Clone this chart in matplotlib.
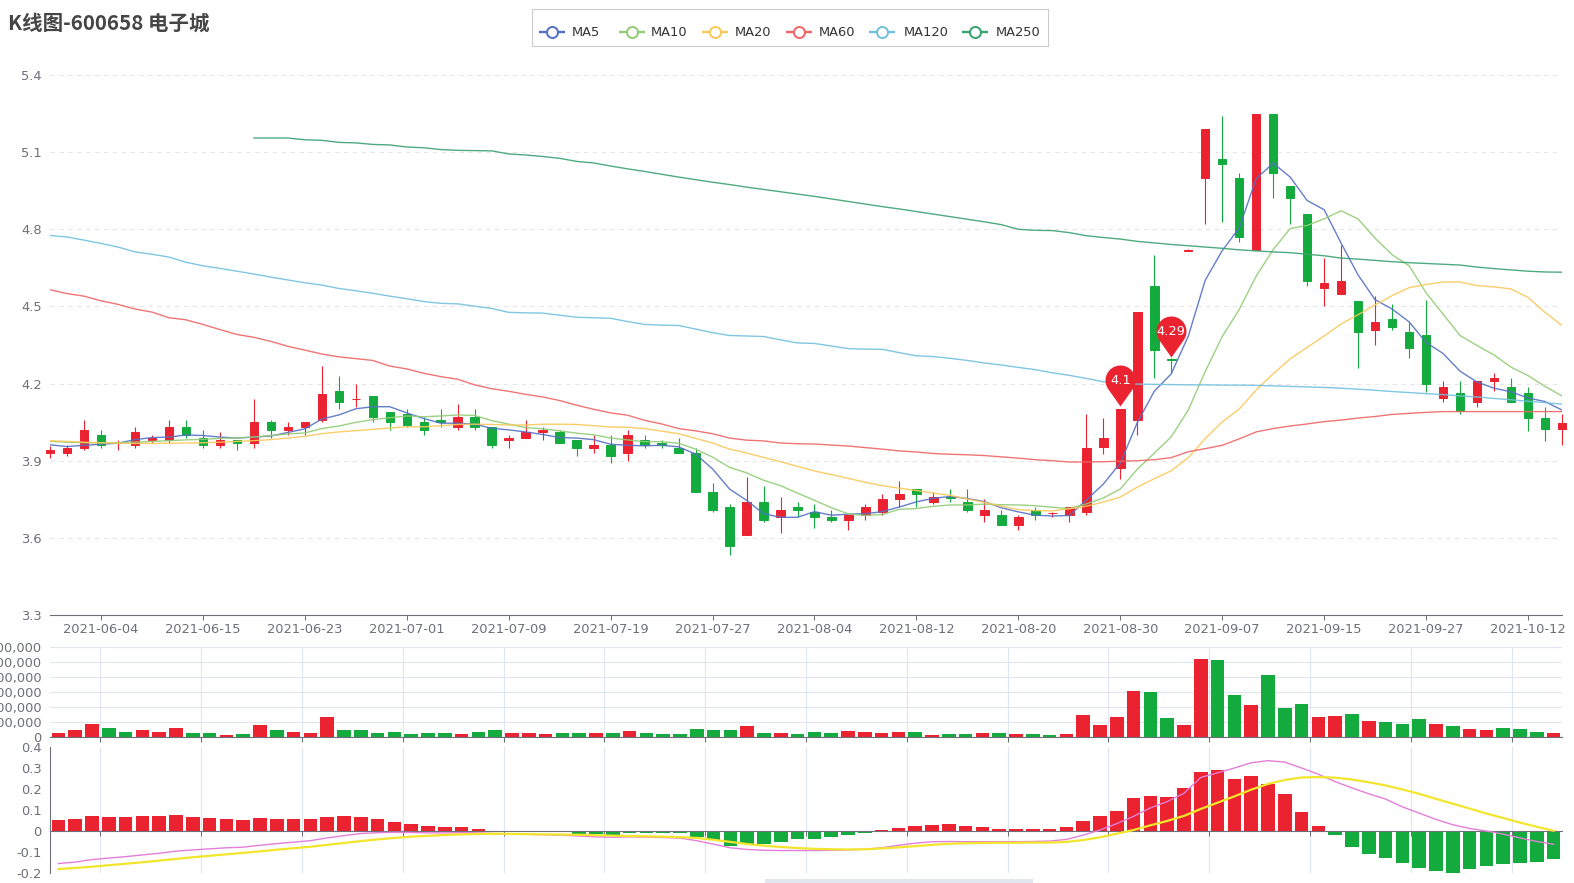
import numpy as np
import pandas as pd
import matplotlib
matplotlib.use("Agg")
import matplotlib.pyplot as plt
from matplotlib.path import Path
from matplotlib.patches import Rectangle
from matplotlib.ticker import FuncFormatter

W, H = 1574, 883
PX = 0.72  # points per pixel at dpi 100

plt.rcParams["font.family"] = ["DejaVu Sans", "Noto Sans CJK SC"]

# ---- trading days (2021-06-01 .. 2021-10-14, CN holidays removed) ----
holidays = ["2021-06-14", "2021-09-20", "2021-09-21", "2021-10-01",
            "2021-10-04", "2021-10-05", "2021-10-06", "2021-10-07"]
dates = [d.strftime("%Y-%m-%d") for d in pd.bdate_range("2021-06-01", "2021-10-14")
         if d.strftime("%Y-%m-%d") not in holidays]

# ---- OHLC ----
open_ = [3.93, 3.93, 3.95, 4.00, 3.97, 3.96, 3.98, 3.98, 4.03, 3.99,
         3.96, 3.98, 3.97, 4.05, 4.02, 4.03, 4.06, 4.17, 4.14, 4.15,
         4.09, 4.08, 4.05, 4.06, 4.03, 4.07, 4.03, 3.98, 3.99, 4.01,
         4.01, 3.98, 3.95, 3.96, 3.93, 3.98, 3.97, 3.95, 3.93, 3.78,
         3.72, 3.61, 3.74, 3.68, 3.72, 3.70, 3.68, 3.67, 3.69, 3.70,
         3.75, 3.79, 3.74, 3.76, 3.74, 3.69, 3.69, 3.65, 3.71, 3.695,
         3.69, 3.70, 3.955, 3.87, 4.06, 4.58, 4.295, 4.715, 5.00, 5.075,
         5.00, 4.72, 5.25, 4.97, 4.86, 4.57, 4.55, 4.52, 4.41, 4.45,
         4.40, 4.39, 4.145, 4.165, 4.13, 4.21, 4.185, 4.165, 4.065, 4.025]
close = [3.94, 3.95, 4.02, 3.96, 3.97, 4.01, 3.99, 4.03, 4.00, 3.96,
         3.98, 3.97, 4.05, 4.02, 4.03, 4.05, 4.16, 4.13, 4.14, 4.07,
         4.05, 4.04, 4.02, 4.05, 4.07, 4.03, 3.96, 3.99, 4.01, 4.02,
         3.97, 3.95, 3.96, 3.92, 4.00, 3.96, 3.96, 3.93, 3.78, 3.71,
         3.57, 3.74, 3.67, 3.71, 3.71, 3.68, 3.67, 3.69, 3.72, 3.75,
         3.77, 3.77, 3.76, 3.755, 3.71, 3.71, 3.65, 3.68, 3.69, 3.695,
         3.72, 3.95, 3.99, 4.10, 4.48, 4.33, 4.29, 4.72, 5.19, 5.055,
         4.77, 5.25, 5.02, 4.92, 4.60, 4.59, 4.60, 4.40, 4.44, 4.42,
         4.34, 4.20, 4.185, 4.095, 4.21, 4.22, 4.13, 4.065, 4.025, 4.045]
high = [3.957, 3.96, 4.06, 4.02, 3.98, 4.03, 4.00, 4.06, 4.06, 4.02,
        4.01, 3.98, 4.14, 4.06, 4.05, 4.05, 4.27, 4.23, 4.20, 4.15,
        4.09, 4.10, 4.07, 4.10, 4.12, 4.10, 4.03, 4.00, 4.06, 4.03,
        4.02, 3.98, 4.00, 4.00, 4.02, 4.00, 3.98, 3.99, 3.95, 3.815,
        3.73, 3.836, 3.80, 3.76, 3.74, 3.73, 3.71, 3.69, 3.73, 3.77,
        3.82, 3.79, 3.78, 3.79, 3.79, 3.75, 3.71, 3.69, 3.72, 3.70,
        3.72, 4.08, 4.067, 4.10, 4.48, 4.70, 4.30, 4.725, 5.19, 5.24,
        5.02, 5.25, 5.25, 4.97, 4.86, 4.69, 4.74, 4.52, 4.54, 4.51,
        4.44, 4.525, 4.21, 4.21, 4.21, 4.24, 4.22, 4.186, 4.11, 4.08]
low = [3.911, 3.92, 3.94, 3.95, 3.94, 3.95, 3.97, 3.97, 3.99, 3.95,
       3.95, 3.94, 3.95, 3.99, 4.00, 4.00, 4.05, 4.10, 4.11, 4.05,
       4.02, 4.03, 4.00, 4.03, 4.02, 4.02, 3.95, 3.95, 3.99, 3.98,
       3.97, 3.92, 3.93, 3.89, 3.90, 3.95, 3.95, 3.93, 3.78, 3.70,
       3.535, 3.61, 3.66, 3.62, 3.68, 3.64, 3.66, 3.63, 3.67, 3.69,
       3.72, 3.72, 3.73, 3.74, 3.70, 3.66, 3.65, 3.63, 3.67, 3.68,
       3.66, 3.69, 3.925, 3.83, 4.00, 4.22, 4.24, 4.715, 4.82, 4.83,
       4.75, 4.72, 4.92, 4.82, 4.58, 4.50, 4.55, 4.26, 4.35, 4.41,
       4.30, 4.166, 4.13, 4.08, 4.11, 4.17, 4.13, 4.016, 3.977, 3.96]

# ---- moving averages ----
ma5 = [3.962, 3.955, 3.960, 3.964, 3.968, 3.982, 3.990, 3.992, 4.000, 3.998,
       3.992, 3.988, 3.992, 3.996, 4.010, 4.024, 4.062, 4.078, 4.102, 4.110,
       4.110, 4.086, 4.064, 4.046, 4.046, 4.042, 4.026, 4.020, 4.012, 4.002,
       3.990, 3.988, 3.982, 3.964, 3.960, 3.958, 3.960, 3.954, 3.926, 3.868,
       3.790, 3.746, 3.694, 3.680, 3.680, 3.702, 3.688, 3.692, 3.694, 3.702,
       3.720, 3.740, 3.754, 3.761, 3.753, 3.741, 3.717, 3.701, 3.688, 3.685,
       3.687, 3.747, 3.809, 3.891, 4.048, 4.170, 4.238, 4.384, 4.602, 4.717,
       4.805, 4.997, 5.057, 5.003, 4.912, 4.876, 4.746, 4.622, 4.526, 4.490,
       4.440, 4.360, 4.317, 4.248, 4.206, 4.182, 4.168, 4.144, 4.130, 4.097]
ma10 = [3.975, 3.972, 3.970, 3.969, 3.970, 3.972, 3.975, 3.978, 3.981, 3.983,
        3.987, 3.989, 3.992, 3.998, 4.004, 4.008, 4.025, 4.035, 4.049, 4.060,
        4.067, 4.074, 4.071, 4.074, 4.078, 4.076, 4.056, 4.042, 4.029, 4.024,
        4.016, 4.007, 4.001, 3.988, 3.981, 3.974, 3.974, 3.968, 3.945, 3.914,
        3.874, 3.853, 3.824, 3.803, 3.774, 3.746, 3.717, 3.693, 3.687, 3.691,
        3.711, 3.714, 3.723, 3.728, 3.728, 3.731, 3.729, 3.728, 3.725, 3.719,
        3.714, 3.732, 3.755, 3.790, 3.867, 3.929, 3.993, 4.097, 4.247, 4.383,
        4.488, 4.618, 4.721, 4.803, 4.815, 4.841, 4.872, 4.840, 4.765, 4.701,
        4.658, 4.553, 4.470, 4.387, 4.348, 4.311, 4.264, 4.231, 4.189, 4.152]
ma20 = [3.978, 3.975, 3.972, 3.970, 3.968, 3.967, 3.967, 3.968, 3.969, 3.970,
        3.972, 3.975, 3.978, 3.982, 3.988, 3.995, 4.005, 4.012, 4.017, 4.022,
        4.027, 4.032, 4.032, 4.036, 4.041, 4.042, 4.041, 4.039, 4.039, 4.042,
        4.042, 4.041, 4.036, 4.031, 4.030, 4.025, 4.015, 4.005, 3.987, 3.969,
        3.945, 3.930, 3.913, 3.896, 3.878, 3.860, 3.846, 3.831, 3.816, 3.803,
        3.793, 3.784, 3.774, 3.765, 3.751, 3.738, 3.723, 3.710, 3.706, 3.705,
        3.713, 3.723, 3.739, 3.759, 3.797, 3.830, 3.861, 3.912, 3.986, 4.051,
        4.101, 4.175, 4.238, 4.296, 4.341, 4.385, 4.432, 4.468, 4.506, 4.542,
        4.573, 4.585, 4.595, 4.595, 4.581, 4.576, 4.568, 4.535, 4.477, 4.426]
ma60 = [4.565, 4.550, 4.540, 4.522, 4.508, 4.490, 4.478, 4.456, 4.448, 4.430,
        4.410, 4.391, 4.380, 4.364, 4.345, 4.330, 4.315, 4.304, 4.297, 4.290,
        4.268, 4.257, 4.240, 4.227, 4.217, 4.195, 4.180, 4.170, 4.158, 4.148,
        4.134, 4.116, 4.100, 4.086, 4.077, 4.057, 4.043, 4.025, 4.016, 4.005,
        3.988, 3.980, 3.977, 3.969, 3.966, 3.965, 3.961, 3.957, 3.951, 3.945,
        3.938, 3.934, 3.928, 3.925, 3.923, 3.920, 3.915, 3.910, 3.904, 3.900,
        3.895, 3.895, 3.896, 3.898, 3.900, 3.904, 3.912, 3.935, 3.947, 3.960,
        3.985, 4.012, 4.025, 4.035, 4.043, 4.052, 4.058, 4.066, 4.072, 4.080,
        4.084, 4.088, 4.091, 4.091, 4.091, 4.091, 4.091, 4.091, 4.091, 4.091]
ma120 = [4.776, 4.770, 4.758, 4.745, 4.731, 4.712, 4.703, 4.692, 4.672, 4.658,
         4.648, 4.637, 4.626, 4.614, 4.603, 4.592, 4.583, 4.570, 4.561, 4.551,
         4.540, 4.530, 4.519, 4.512, 4.510, 4.501, 4.492, 4.477, 4.475, 4.474,
         4.466, 4.458, 4.456, 4.454, 4.441, 4.430, 4.427, 4.426, 4.412, 4.398,
         4.387, 4.385, 4.383, 4.370, 4.358, 4.356, 4.346, 4.336, 4.334, 4.333,
         4.320, 4.308, 4.305, 4.298, 4.290, 4.280, 4.272, 4.263, 4.254, 4.242,
         4.232, 4.220, 4.207, 4.200, 4.198, 4.197, 4.196, 4.195, 4.195, 4.194,
         4.194, 4.193, 4.191, 4.189, 4.187, 4.185, 4.182, 4.178, 4.174, 4.169,
         4.165, 4.161, 4.157, 4.152, 4.148, 4.142, 4.137, 4.131, 4.126, 4.120]
ma250 = [None] * 12 + [
         5.155, 5.155, 5.155, 5.148, 5.146, 5.138, 5.136, 5.130,
         5.128, 5.120, 5.117, 5.110, 5.107, 5.106, 5.105, 5.093, 5.089, 5.083,
         5.076, 5.064, 5.058, 5.046, 5.035, 5.025, 5.014, 5.003, 4.993, 4.983,
         4.974, 4.964, 4.955, 4.946, 4.937, 4.928, 4.918, 4.908, 4.898, 4.888,
         4.879, 4.869, 4.859, 4.849, 4.839, 4.829, 4.818, 4.800, 4.796, 4.795,
         4.787, 4.775, 4.768, 4.762, 4.753, 4.747, 4.741, 4.736, 4.731, 4.726,
         4.720, 4.716, 4.712, 4.709, 4.703, 4.697, 4.688, 4.684, 4.679, 4.674,
         4.670, 4.667, 4.664, 4.661, 4.653, 4.647, 4.642, 4.637, 4.634, 4.633]

# ---- volume ----
volume = [54000, 94000, 174000, 120000, 62000, 88000, 62000, 120000, 58000, 54000,
          32000, 44000, 160000, 88000, 72000, 58000, 262000, 88000, 88000, 48000,
          66000, 44000, 58000, 54000, 40000, 62000, 88000, 48000, 48000, 36000,
          48000, 48000, 48000, 58000, 84000, 54000, 40000, 40000, 106000, 88000,
          88000, 152000, 48000, 58000, 44000, 66000, 54000, 76000, 72000, 58000,
          72000, 62000, 26000, 36000, 36000, 48000, 48000, 44000, 36000, 32000,
          44000, 298000, 156000, 262000, 618000, 600000, 258000, 164000, 1036000, 1022000,
          564000, 426000, 822000, 382000, 444000, 262000, 276000, 306000, 218000, 196000,
          168000, 244000, 168000, 146000, 106000, 94000, 116000, 102000, 66000, 58000]

# ---- MACD ----
macd_hist = [0.052, 0.055, 0.071, 0.068, 0.068, 0.072, 0.071, 0.076, 0.068, 0.063,
             0.059, 0.051, 0.060, 0.059, 0.057, 0.057, 0.067, 0.071, 0.067, 0.057,
             0.043, 0.033, 0.022, 0.021, 0.018, 0.011, -0.002, -0.004, -0.005, -0.006,
             -0.006, -0.012, -0.016, -0.018, -0.010, -0.008, -0.008, -0.010, -0.027, -0.043,
             -0.071, -0.060, -0.062, -0.051, -0.040, -0.037, -0.029, -0.019, -0.010, 0.005,
             0.016, 0.024, 0.030, 0.032, 0.025, 0.021, 0.011, 0.008, 0.011, 0.011,
             0.017, 0.048, 0.073, 0.097, 0.158, 0.168, 0.163, 0.206, 0.281, 0.292,
             0.246, 0.260, 0.224, 0.175, 0.089, 0.022, -0.021, -0.078, -0.108, -0.129,
             -0.151, -0.175, -0.189, -0.198, -0.181, -0.165, -0.159, -0.152, -0.149, -0.133]
dif = [-0.155, -0.148, -0.136, -0.129, -0.122, -0.114, -0.106, -0.096, -0.090, -0.085,
       -0.080, -0.077, -0.068, -0.060, -0.053, -0.046, -0.033, -0.022, -0.012, -0.008,
       -0.006, -0.007, -0.009, -0.009, -0.008, -0.009, -0.012, -0.015, -0.016, -0.018,
       -0.020, -0.024, -0.028, -0.030, -0.028, -0.029, -0.031, -0.034, -0.046, -0.063,
       -0.080, -0.088, -0.092, -0.093, -0.093, -0.093, -0.092, -0.090, -0.087, -0.080,
       -0.068, -0.058, -0.051, -0.050, -0.051, -0.051, -0.051, -0.051, -0.050, -0.048,
       -0.040, -0.020, 0.005, 0.035, 0.070, 0.110, 0.140, 0.180, 0.255, 0.277,
       0.300, 0.325, 0.335, 0.328, 0.300, 0.270, 0.235, 0.205, 0.177, 0.152,
       0.115, 0.085, 0.055, 0.030, 0.012, 0.000, -0.015, -0.033, -0.050, -0.063]
dea = [-0.181, -0.176, -0.170, -0.163, -0.156, -0.149, -0.141, -0.133, -0.125, -0.118,
       -0.111, -0.104, -0.097, -0.089, -0.082, -0.075, -0.066, -0.057, -0.048, -0.040,
       -0.033, -0.027, -0.023, -0.019, -0.016, -0.014, -0.013, -0.014, -0.015, -0.016,
       -0.017, -0.018, -0.020, -0.022, -0.024, -0.025, -0.027, -0.029, -0.033, -0.042,
       -0.052, -0.062, -0.070, -0.076, -0.081, -0.085, -0.087, -0.088, -0.087, -0.083,
       -0.078, -0.072, -0.066, -0.061, -0.058, -0.057, -0.056, -0.056, -0.055, -0.055,
       -0.052, -0.043, -0.030, -0.013, 0.005, 0.027, 0.048, 0.072, 0.105, 0.135,
       0.165, 0.197, 0.224, 0.243, 0.255, 0.257, 0.254, 0.245, 0.232, 0.217,
       0.198, 0.177, 0.153, 0.130, 0.107, 0.083, 0.062, 0.040, 0.020, 0.001]

# ---- pins ----
pin_idx = [63, 66]
pin_val = [4.10, 4.29]

ma_names = ["MA5", "MA10", "MA20", "MA60", "MA120", "MA250"]
ma_colors = ["#5470c6", "#91cc75", "#fac858", "#ee6666", "#73c0de", "#3ba272"]

UP, DOWN = "#eb2230", "#14ab3e"
AXIS = "#6e7079"
GRID = "#e0e6f1"

n = len(close)
x = np.arange(n)
cc = []
for i in range(n):
    if close[i] > open_[i]:
        cc.append(UP)
    elif close[i] < open_[i]:
        cc.append(DOWN)
    else:
        cc.append(UP if i == 0 or close[i] >= close[i - 1] else DOWN)
vc = [UP if close[i] > open_[i] else DOWN for i in range(n)]


def box(l, t, r, b):
    return [l / W, 1 - b / H, (r - l) / W, (b - t) / H]


fig = plt.figure(figsize=(W / 100, H / 100), dpi=100)
ax = fig.add_axes(box(50, 75, 1562, 615))
axv = fig.add_axes(box(50, 647, 1562, 737))
axm = fig.add_axes(box(50, 747, 1562, 873))

fs = 13 * PX

# ---- main K-line panel ----
o, c = np.array(open_), np.array(close)
ax.vlines(x, low, high, colors=cc, lw=0.8, zorder=2, clip_on=False)
ax.bar(x, np.abs(c - o), bottom=np.minimum(o, c), width=0.5, color=cc,
       edgecolor=cc, linewidth=0.7, zorder=3, clip_on=False)
for vals, col in zip([ma5, ma10, ma20, ma60, ma120, ma250], ma_colors):
    ax.plot(x, np.array(vals, dtype=float), color=col, lw=1.0, alpha=0.9, zorder=4)

ax.set_xlim(0, n - 1)
ax.set_ylim(3.3, 5.4)
yt = np.round(np.arange(3.3, 5.41, 0.3), 1)
ax.set_yticks(yt)
ax.yaxis.set_major_formatter(FuncFormatter(lambda v, p: f"{v:.1f}"))
for v in yt[1:]:
    ax.axhline(v, color="#e6e6e6", lw=0.8, ls=(0, (4, 4)), zorder=0)
tick_idx = list(range(3, n, 6))
ax.set_xticks(tick_idx)
ax.set_xticklabels([dates[i] for i in tick_idx])
for s in ["top", "right", "left"]:
    ax.spines[s].set_visible(False)
ax.spines["bottom"].set_color(AXIS)
ax.tick_params(axis="x", length=5 * PX, width=PX, color=AXIS, pad=2.5,
               labelsize=fs, labelcolor=AXIS)
ax.tick_params(axis="y", length=0, pad=6, labelsize=fs, labelcolor=AXIS)

# pin markers
r, cy, tip = 15, 29, 3
beta = np.degrees(np.arccos(r / (cy - tip)))
ang = np.radians(np.linspace(-90 + beta, 270 - beta, 80))
verts = np.column_stack([r * np.cos(ang), cy + r * np.sin(ang)])
verts = np.vstack([verts, [0, tip], verts[0]])
codes = [Path.MOVETO] + [Path.LINETO] * (len(verts) - 2) + [Path.CLOSEPOLY]
pin = Path(verts, codes)
ext = np.abs(verts).max()
ax.plot(pin_idx, pin_val, ls="none", marker=pin, markersize=2 * ext * PX,
        color=UP, mew=0, zorder=6, clip_on=False)
for i, v in zip(pin_idx, pin_val):
    ax.annotate(f"{v:g}", (i, v), xytext=(0, cy * PX), textcoords="offset points",
                ha="center", va="center", color="white", fontsize=fs, zorder=7)

# ---- volume panel ----
axv.bar(x, volume, width=0.8, color=vc, zorder=2)
axv.set_xlim(-0.5, n - 0.5)
axv.set_ylim(0, 1200000)
axv.set_yticks(np.arange(0, 1200001, 200000))
axv.yaxis.set_major_formatter(FuncFormatter(lambda v, p: f"{int(round(v)):,}"))
bounds = np.arange(2.5, n, 6)
axv.set_xticks(bounds)
axv.set_xticklabels([])
axv.grid(True, color=GRID, lw=0.8)
axv.set_axisbelow(True)
for s in ["top", "right", "left"]:
    axv.spines[s].set_visible(False)
axv.spines["bottom"].set_color(AXIS)
axv.tick_params(axis="x", length=5 * PX, width=PX, color=AXIS)
axv.tick_params(axis="y", length=0, pad=6, labelsize=fs, labelcolor=AXIS)

# ---- MACD panel ----
axm.bar(x, macd_hist, width=0.8, color=[UP if h >= 0 else DOWN for h in macd_hist], zorder=2)
axm.plot(x, dif, color="#e37fd9", lw=1.0, zorder=4)
axm.plot(x, dea, color="#f2e62c", lw=1.6, zorder=4)
axm.set_xlim(-0.5, n - 0.5)
axm.set_ylim(-0.2, 0.4)
axm.set_yticks([-0.2, -0.1, 0, 0.1, 0.2, 0.3, 0.4])
axm.yaxis.set_major_formatter(FuncFormatter(lambda v, p: "0" if abs(v) < 1e-9 else f"{v:.1f}"))
axm.set_xticks(bounds)
axm.set_xticklabels([])
axm.grid(True, axis="x", color=GRID, lw=0.8)
axm.set_axisbelow(True)
for s in ["top", "right"]:
    axm.spines[s].set_visible(False)
axm.spines["bottom"].set_position(("data", 0))
axm.spines["bottom"].set_color(AXIS)
axm.spines["left"].set_color(AXIS)
axm.tick_params(axis="x", length=5 * PX, width=PX, color=AXIS)
axm.tick_params(axis="y", length=0, pad=6, labelsize=fs, labelcolor=AXIS)

# ---- title, legend, zoom slider stub ----
ov = fig.add_axes([0, 0, 1, 1], zorder=10)
ov.set_xlim(0, W)
ov.set_ylim(H, 0)
ov.axis("off")
ov.patch.set_alpha(0)
ov.text(8, 23, "K线图-600658 电子城", ha="left", va="center", fontsize=20.5 * PX,
        fontweight="bold", color="#464646", family=["Noto Sans CJK SC", "DejaVu Sans"])
ov.add_patch(Rectangle((532, 9), 516, 37, facecolor="white", edgecolor="#cccccc", lw=0.8))
icon_x = [552, 632, 715, 799, 882, 975]
text_x = [572, 651, 735, 819, 904, 996]
for name, col, ix, tx in zip(ma_names, ma_colors, icon_x, text_x):
    ov.plot([ix - 13, ix + 13], [32, 32], color=col, lw=2 * PX * 1.2, solid_capstyle="butt")
    ov.plot([ix], [32], marker="o", markersize=11 * PX, mfc="white", mec=col, mew=2 * PX)
    ov.text(tx, 32, name, ha="left", va="center", fontsize=fs, color="#333333")
ov.add_patch(Rectangle((765, 879), 268, 6, facecolor="#e2e7ef", edgecolor="none"))

fig.savefig("out.png", dpi=100)
